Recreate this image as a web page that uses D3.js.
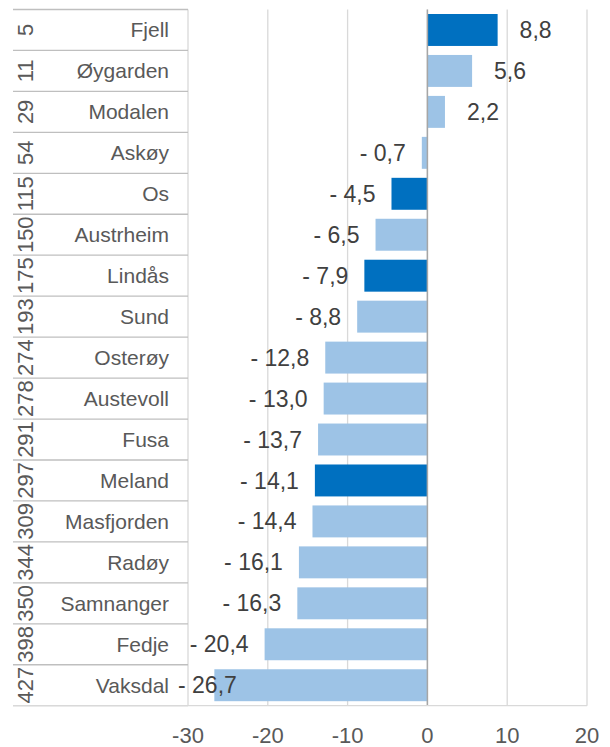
<!DOCTYPE html>
<html>
<head>
<meta charset="utf-8">
<script src="https://cdn.jsdelivr.net/npm/d3@7"></script>
<style>
  body { margin: 0; background: #fff; }
  text { font-family: "Liberation Sans", Arial, sans-serif; }
</style>
</head>
<body>
<div id="chart"></div>
<script>
const ranks = [5, 11, 29, 54, 115, 150, 175, 193, 274, 278, 291, 297, 309, 344, 350, 398, 427];
const names = ["Fjell", "Øygarden", "Modalen", "Askøy", "Os", "Austrheim", "Lindås", "Sund",
  "Osterøy", "Austevoll", "Fusa", "Meland", "Masfjorden", "Radøy", "Samnanger", "Fedje", "Vaksdal"];
const values = [8.8, 5.6, 2.2, -0.7, -4.5, -6.5, -7.9, -8.8, -12.8, -13.0, -13.7, -14.1, -14.4, -16.1, -16.3, -20.4, -26.7];
const highlighted = ["Fjell", "Os", "Lindås", "Meland"];
const xTicks = [-30, -20, -10, 0, 10, 20];

const width = 610, height = 747;
const svg = d3.select("#chart").append("svg")
  .attr("width", width)
  .attr("height", height);

const plotTop = 9.5, plotBottom = 705.7;
const x = d3.scaleLinear().domain([-30, 20]).range([188, 587]);
const y = d3.scaleBand().domain(names).range([plotTop, plotBottom])
  .paddingInner(0.22).paddingOuter(0.11);
const step = y.step();

const fmt = v => {
  const s = d3.format(".1f")(Math.abs(v)).replace(".", ",");
  return v < 0 ? "- " + s : s;
};

// gridlines
svg.append("g")
  .selectAll("line")
  .data(xTicks)
  .enter().append("line")
    .attr("x1", d => x(d)).attr("x2", d => x(d))
    .attr("y1", plotTop).attr("y2", plotBottom)
    .attr("stroke", "#d9d9d9")
    .attr("stroke-width", 1.3);

// bars
svg.append("g")
  .selectAll("rect")
  .data(names)
  .enter().append("rect")
    .attr("x", (d, i) => x(Math.min(0, values[i])))
    .attr("width", (d, i) => Math.abs(x(values[i]) - x(0)))
    .attr("y", d => y(d))
    .attr("height", y.bandwidth())
    .attr("fill", d => highlighted.includes(d) ? "#0070c0" : "#9dc3e6");

// zero line
svg.append("line")
  .attr("x1", x(0)).attr("x2", x(0))
  .attr("y1", plotTop).attr("y2", plotBottom)
  .attr("stroke", "#a6a6a6")
  .attr("stroke-width", 1.5);

// category table lines
const boundaries = d3.range(names.length + 1).map(i => plotTop + i * step);
svg.append("g")
  .selectAll("line")
  .data(boundaries)
  .enter().append("line")
    .attr("x1", 13).attr("x2", 188)
    .attr("y1", d => d).attr("y2", d => d)
    .attr("stroke", "#bfbfbf")
    .attr("stroke-width", 1.3);

// bottom axis line
svg.append("line")
  .attr("x1", 13).attr("x2", x(20))
  .attr("y1", plotBottom).attr("y2", plotBottom)
  .attr("stroke", "#d9d9d9")
  .attr("stroke-width", 1.3);

// x tick labels
svg.append("g")
  .selectAll("text")
  .data(xTicks)
  .enter().append("text")
    .attr("x", d => x(d))
    .attr("y", 743)
    .attr("text-anchor", "middle")
    .attr("font-size", 22)
    .attr("fill", "#595959")
    .text(d => d);

// names
svg.append("g")
  .selectAll("text")
  .data(names)
  .enter().append("text")
    .attr("x", 169)
    .attr("y", d => y(d) + y.bandwidth() / 2)
    .attr("dy", "0.35em")
    .attr("text-anchor", "end")
    .attr("font-size", 21)
    .attr("fill", "#595959")
    .text(d => d);

// ranks, rotated
svg.append("g")
  .selectAll("text")
  .data(names)
  .enter().append("text")
    .attr("transform", d => `translate(33,${y(d) + y.bandwidth() / 2}) rotate(-90)`)
    .attr("text-anchor", "middle")
    .attr("font-size", 22)
    .attr("fill", "#595959")
    .text((d, i) => ranks[i]);

// value labels
const labels = svg.append("g")
  .selectAll("text")
  .data(names)
  .enter().append("text")
    .attr("y", d => y(d) + y.bandwidth() / 2)
    .attr("dy", "0.35em")
    .attr("font-size", 23)
    .attr("fill", "#404040")
    .text((d, i) => fmt(values[i]));

labels.each(function (d, i) {
  const el = d3.select(this);
  const v = values[i];
  if (v >= 0) {
    el.attr("x", x(v) + 22).attr("text-anchor", "start");
  } else {
    const w = this.getComputedTextLength();
    let end = x(v) - 16;
    if (end - w < 178) end = 178 + w;
    el.attr("x", end).attr("text-anchor", "end");
  }
});
</script>
</body>
</html>
